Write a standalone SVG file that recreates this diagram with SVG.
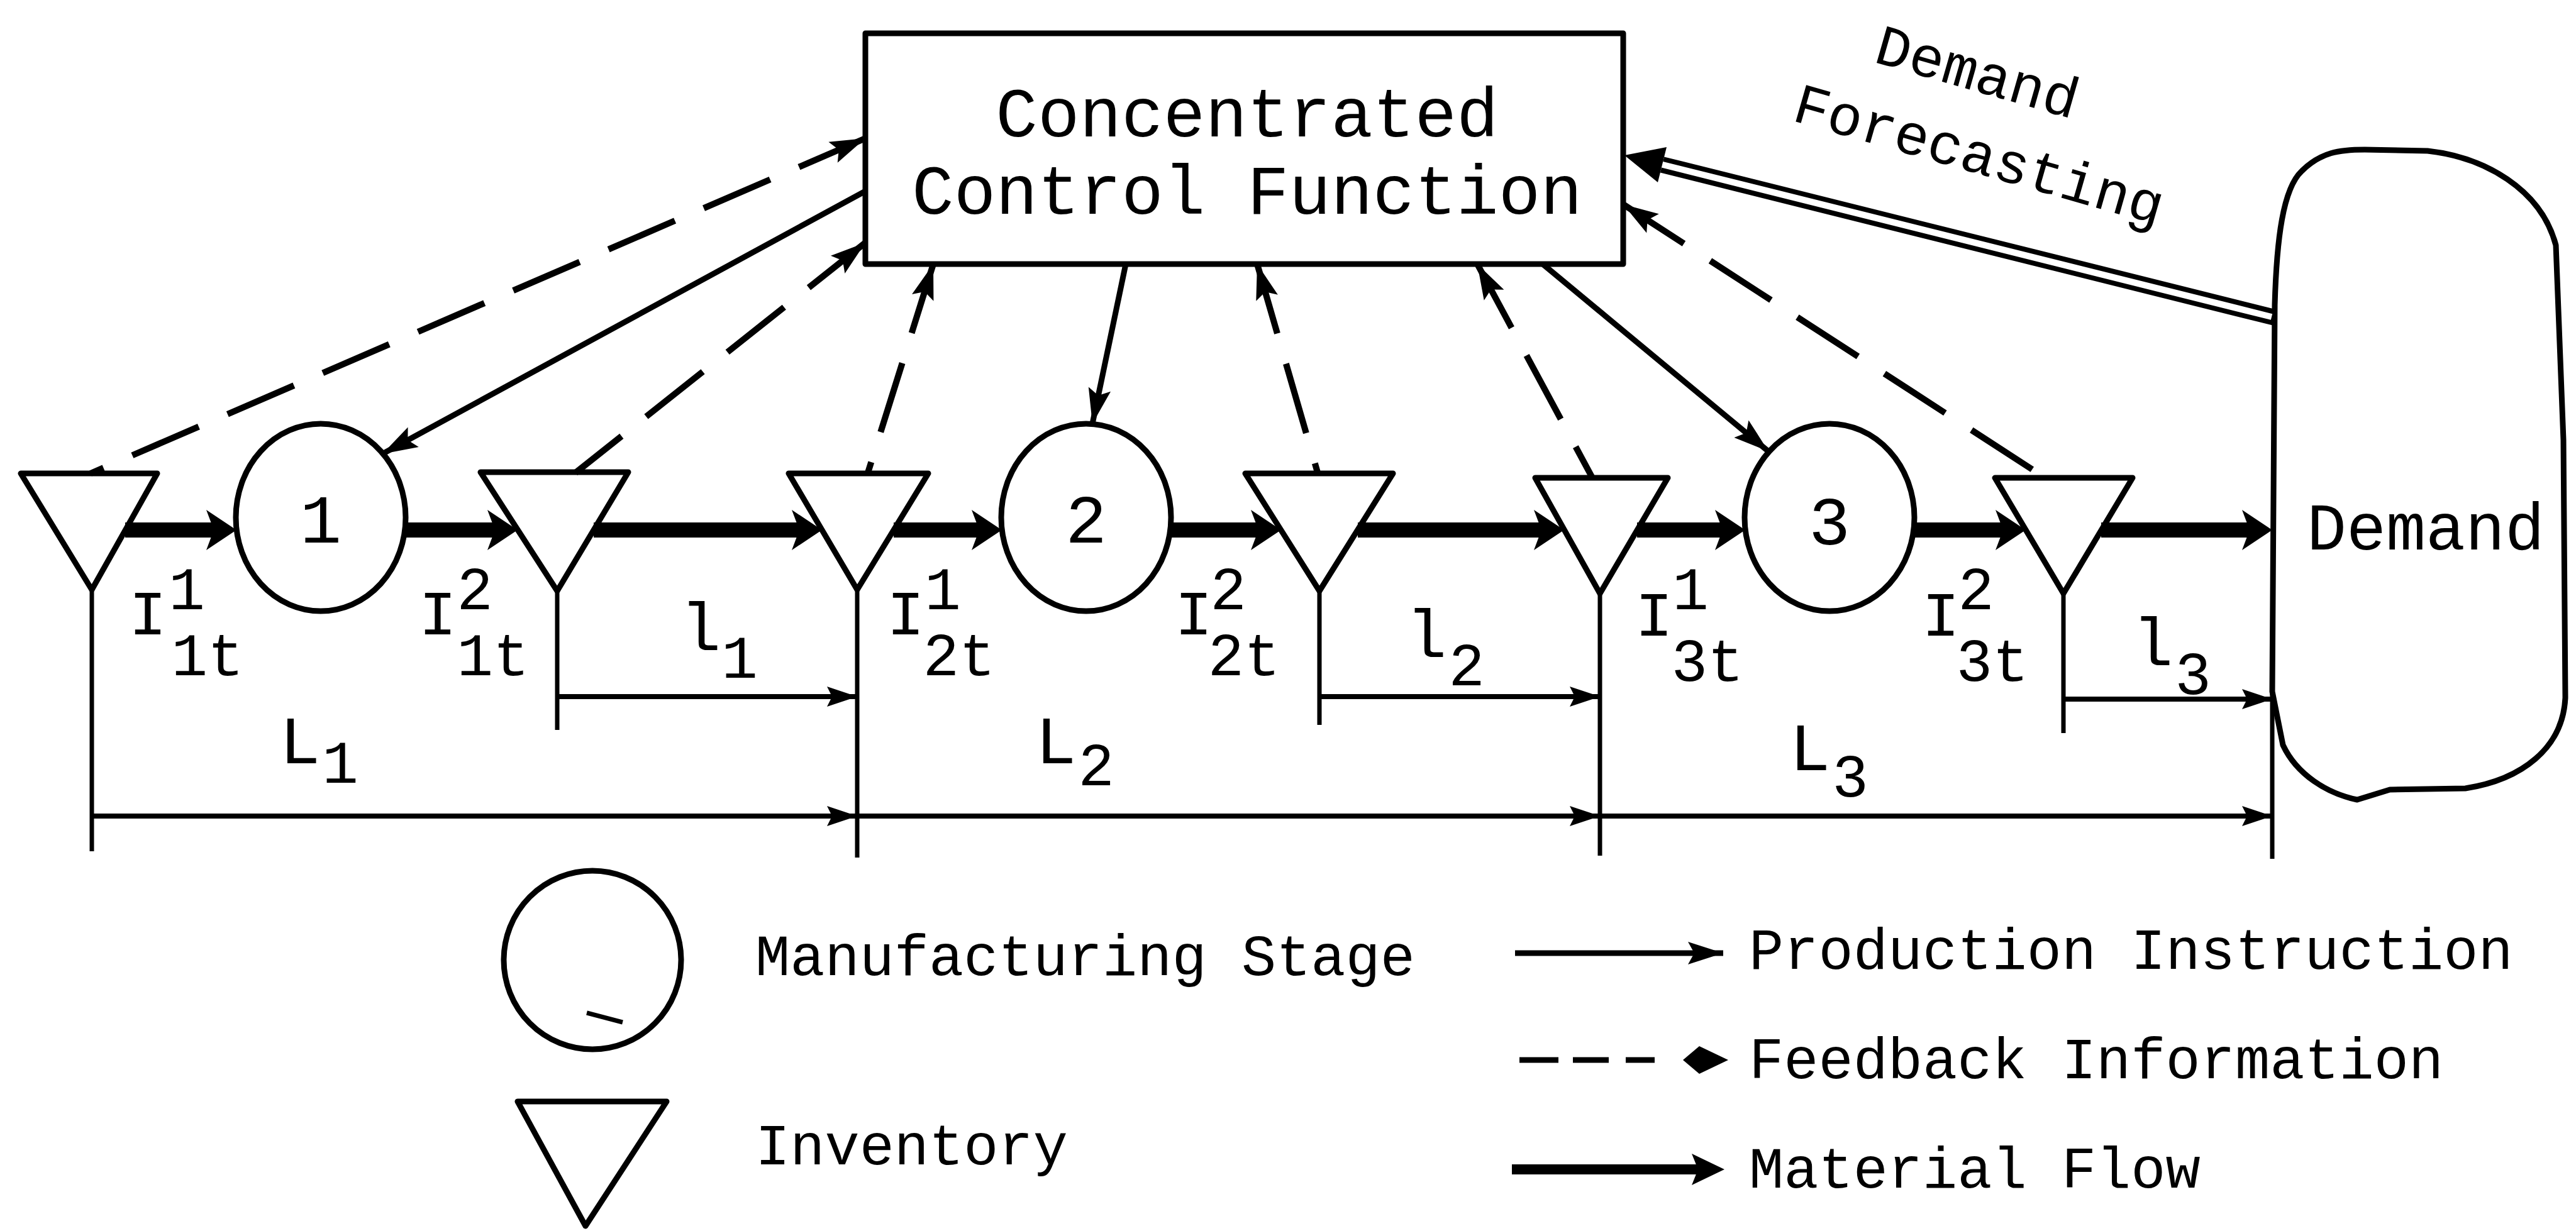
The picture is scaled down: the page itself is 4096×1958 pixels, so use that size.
<svg xmlns="http://www.w3.org/2000/svg" width="4096" height="1958" viewBox="0 0 4096 1958">
<style>
.s{fill:none;stroke:#000;stroke-width:9;stroke-linejoin:round}
.d{fill:none;stroke:#000;stroke-width:10;stroke-dasharray:115 50}
.f{fill:none;stroke:#000;stroke-width:24}
.dim{fill:none;stroke:#000;stroke-width:8}
.v{fill:none;stroke:#000;stroke-width:7}
text{font-family:"Liberation Mono","DejaVu Sans Mono",monospace;fill:#000}
.bx{font-size:111px;text-anchor:middle}
.lb{font-size:100px;text-anchor:middle}
.sc{font-size:96px;text-anchor:middle}
.ll{font-size:108px;text-anchor:middle}
.nm{font-size:110px;text-anchor:middle}
.lg{font-size:92px}
</style>
<defs>
<marker id="ah" viewBox="-60 -22 62 44" refX="0" refY="0" markerWidth="62" markerHeight="44" markerUnits="userSpaceOnUse" orient="auto-start-reverse"><path d="M0,0 L-56,-18 L-46,0 L-56,18 Z" fill="#000"/></marker>
<marker id="fl" viewBox="-30 -35 55 70" refX="0" refY="0" markerWidth="55" markerHeight="70" markerUnits="userSpaceOnUse" orient="auto"><path d="M22,0 L-26,-32 L-14,0 L-26,32 Z" fill="#000"/></marker>
<marker id="dm" viewBox="-52 -20 54 40" refX="0" refY="0" markerWidth="54" markerHeight="40" markerUnits="userSpaceOnUse" orient="auto"><path d="M0,0 L-48,-16 L-40,0 L-48,16 Z" fill="#000"/></marker>
</defs>
<rect x="0" y="0" width="4096" height="1958" fill="#fff"/>

<g id="control">
<rect x="1376" y="53" width="1205" height="367" class="s"/>
<text class="bx" x="1983" y="217">Concentrated</text>
<text class="bx" x="1983" y="340">Control Function</text>
</g>

<g id="inv1"><polygon points="33,753 250,753 146,938" class="s"/></g>
<g id="stage1"><ellipse cx="510" cy="823" rx="135" ry="149" class="s"/><text class="nm" x="510" y="863">1</text></g>
<g id="inv2"><polygon points="764,751 999,751 886,940" class="s"/></g>
<g id="inv3"><polygon points="1254,753 1476,753 1363,938" class="s"/></g>
<g id="stage2"><ellipse cx="1727" cy="823" rx="135" ry="149" class="s"/><text class="nm" x="1727" y="863">2</text></g>
<g id="inv4"><polygon points="1980,753 2215,753 2098,940" class="s"/></g>
<g id="inv5"><polygon points="2441,760 2652,760 2544,944" class="s"/></g>
<g id="stage3"><ellipse cx="2909" cy="823" rx="135" ry="149" class="s"/><text class="nm" x="2909" y="866">3</text></g>
<g id="inv6"><polygon points="3172,760 3391,760 3281,944" class="s"/></g>

<g id="demand">
<path d="M3617,485 C3620,380 3630,300 3660,272 C3690,242 3720,238 3760,238 L3860,240 C3950,250 4040,300 4064,390 L4076,700 L4079,1110 C4075,1190 4010,1240 3920,1254 L3800,1256 L3748,1272 C3700,1262 3652,1232 3630,1185 L3613,1100 Z" class="s"/>
<text x="3857" y="874" style="font-size:105px;text-anchor:middle">Demand</text>
</g>

<g id="forecast-label">
<text class="lg" transform="translate(2977,98) rotate(16)">Demand</text>
<text class="lg" transform="translate(2847,191) rotate(16)">Forecasting</text>
</g>

<g id="connectors">
<path d="M1376,220 L144,753" class="d" marker-start="url(#ah)"/>
<path d="M1376,386 L915,752" class="d" marker-start="url(#ah)"/>
<path d="M1484,420 L1379,755" class="d" marker-start="url(#ah)"/>
<path d="M1999,420 L2096,755" class="d" marker-start="url(#ah)"/>
<path d="M2349,420 L2532,760" class="d" marker-start="url(#ah)"/>
<path d="M2581,325 L3252,760" class="d" marker-start="url(#ah)"/>
<path d="M1376,304 L608,722" class="s" marker-end="url(#ah)"/>
<path d="M1790,420 L1737,674" class="s" marker-end="url(#ah)"/>
<path d="M2453,420 L2812,718" class="s" marker-end="url(#ah)"/>
<path d="M3617,505 L2643,262" fill="none" stroke="#000" stroke-width="26"/>
<path d="M3612,504 L2640,261" fill="none" stroke="#fff" stroke-width="10"/>
<polygon points="2583,247 2636,290 2650,234" fill="#000"/>
<path d="M199,843 L354,843" class="f" marker-end="url(#fl)"/>
<path d="M644,843 L801,843" class="f" marker-end="url(#fl)"/>
<path d="M944,843 L1285,843" class="f" marker-end="url(#fl)"/>
<path d="M1421,843 L1571,843" class="f" marker-end="url(#fl)"/>
<path d="M1861,843 L2015,843" class="f" marker-end="url(#fl)"/>
<path d="M2159,843 L2465,843" class="f" marker-end="url(#fl)"/>
<path d="M2603,843 L2753,843" class="f" marker-end="url(#fl)"/>
<path d="M3043,843 L3199,843" class="f" marker-end="url(#fl)"/>
<path d="M3341,843 L3591,843" class="f" marker-end="url(#fl)"/>
<path d="M146,938 L146,1354" class="v"/>
<path d="M886,940 L886,1161" class="v"/>
<path d="M1363,938 L1363,1364" class="v"/>
<path d="M2098,940 L2098,1153" class="v"/>
<path d="M2544,944 L2544,1361" class="v"/>
<path d="M3281,944 L3281,1166" class="v"/>
<path d="M3613,1100 L3613,1366" class="v"/>
<path d="M886,1108 L1363,1108" class="dim" marker-end="url(#dm)"/>
<path d="M2098,1108 L2544,1108" class="dim" marker-end="url(#dm)"/>
<path d="M3281,1112 L3613,1112" class="dim" marker-end="url(#dm)"/>
<path d="M146,1298 L1363,1298" class="dim" marker-end="url(#dm)"/>
<path d="M1363,1298 L2544,1298" class="dim" marker-end="url(#dm)"/>
<path d="M2544,1298 L3613,1298" class="dim" marker-end="url(#dm)"/>
</g>

<g id="labels">
<text class="lb" x="235" y="1009">I</text><text class="sc" x="297" y="969">1</text><text class="sc" x="330" y="1074">1t</text>
<text class="lb" x="696" y="1009">I</text><text class="sc" x="755" y="969">2</text><text class="sc" x="784" y="1074">1t</text>
<text class="ll" x="1114" y="1034">l</text><text class="sc" x="1176" y="1078">1</text>
<text class="lb" x="1440" y="1009">I</text><text class="sc" x="1499" y="969">1</text><text class="sc" x="1525" y="1074">2t</text>
<text class="lb" x="1898" y="1009">I</text><text class="sc" x="1953" y="969">2</text><text class="sc" x="1978" y="1074">2t</text>
<text class="ll" x="477" y="1214">L</text><text class="sc" x="541" y="1245">1</text>
<text class="ll" x="1679" y="1214">L</text><text class="sc" x="1743" y="1249">2</text>
<text class="ll" x="2268" y="1045">l</text><text class="sc" x="2332" y="1090">2</text>
<text class="lb" x="2630" y="1011">I</text><text class="sc" x="2688" y="969">1</text><text class="sc" x="2715" y="1083">3t</text>
<text class="lb" x="3086" y="1011">I</text><text class="sc" x="3142" y="969">2</text><text class="sc" x="3168" y="1083">3t</text>
<text class="ll" x="3423" y="1058">l</text><text class="sc" x="3487" y="1104">3</text>
<text class="ll" x="2878" y="1225">L</text><text class="sc" x="2942" y="1267">3</text>
</g>

<g id="legend-stage">
<ellipse cx="942" cy="1527" rx="141" ry="142" class="s"/>
<path d="M933,1611 L990,1626" class="v"/>
<text class="lg" x="1201" y="1551">Manufacturing Stage</text>
</g>
<g id="legend-inventory">
<polygon points="823,1752 1060,1752 931,1950" class="s"/>
<text class="lg" x="1201" y="1852">Inventory</text>
</g>
<g id="legend-production">
<path d="M2409,1516 L2740,1516" class="s" marker-end="url(#ah)"/>
<text class="lg" x="2781" y="1541">Production Instruction</text>
</g>
<g id="legend-feedback">
<path d="M2416,1686 L2478,1686 M2501,1686 L2558,1686 M2585,1686 L2631,1686" class="s"/>
<path d="M2748,1686 L2702,1664 L2676,1686 L2702,1708 Z" fill="#000"/>
<text class="lg" x="2781" y="1715">Feedback Information</text>
</g>
<g id="legend-material">
<path d="M2404,1860 L2708,1860" fill="none" stroke="#000" stroke-width="16"/>
<path d="M2742,1860 L2690,1835 L2700,1860 L2690,1885 Z" fill="#000"/>
<text class="lg" x="2781" y="1889">Material Flow</text>
</g>
</svg>
